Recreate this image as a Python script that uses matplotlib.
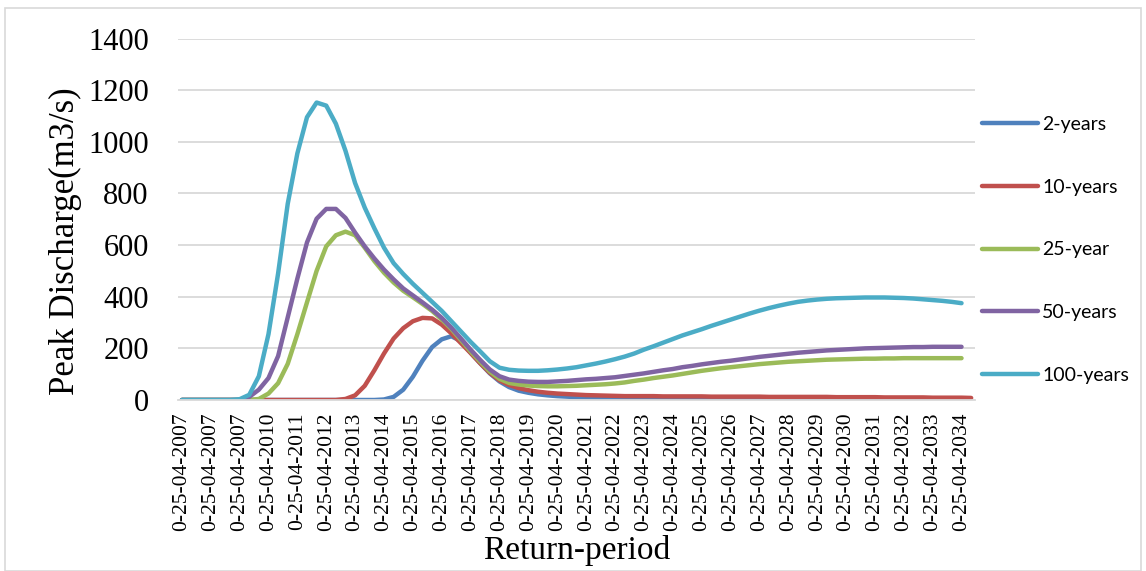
import matplotlib
matplotlib.use("Agg")
import matplotlib.pyplot as plt
from matplotlib.patches import Rectangle

# ---- data -------------------------------------------------------------
tick_labels = (["0-25-04-2007"] * 3 +
               ["0-25-04-%d" % y for y in range(2010, 2035)])

years_2 = [0]*21 + [2, 12, 40, 90, 152, 205, 235, 247, 228, 183,
           142, 103, 72, 50, 36, 28, 22, 18, 15, 13,
           11, 10, 9, 8, 7, 6, 6, 5, 5, 5,
           4, 4, 4, 4, 4, 4, 4, 4, 4, 4,
           3, 3, 3, 3, 3, 3, 3, 3, 3, 3,
           2, 2, 2, 2, 2, 2, 2, 2, 2, 2, 2]

years_10 = [0]*17 + [4, 18, 55, 115, 180, 238, 278, 305, 318, 316,
            292, 258, 220, 182, 142, 105, 76, 58, 46, 38,
            32, 28, 25, 23, 21, 19, 18, 17, 16, 15,
            15, 15, 15, 14, 14, 14, 14, 14, 13, 13,
            13, 13, 13, 13, 12, 12, 12, 12, 12, 12,
            12, 11, 11, 11, 11, 11, 10, 10, 10, 10,
            10, 9, 9, 9, 9, 8]

years_25 = [0]*8 + [4, 25, 65, 140, 255, 378, 500, 595, 638, 652,
            638, 590, 538, 493, 455, 423, 398, 372, 345, 312,
            275, 232, 188, 148, 110, 82, 66, 60, 56, 54,
            53, 53, 54, 55, 57, 59, 61, 64, 68, 74,
            79, 85, 90, 95, 101, 107, 113, 118, 123, 127,
            131, 135, 139, 142, 145, 148, 150, 152, 154, 156,
            157, 158, 159, 160, 160, 161, 161, 162, 162, 162,
            162, 162, 162, 162]

years_50 = [0]*7 + [12, 40, 85, 170, 320, 470, 610, 702, 740, 740,
            705, 648, 595, 548, 505, 467, 432, 405, 378, 350,
            318, 280, 238, 195, 155, 118, 92, 79, 74, 71,
            70, 70, 72, 74, 77, 80, 82, 85, 88, 93,
            98, 103, 109, 115, 120, 127, 132, 138, 143, 148,
            152, 157, 162, 167, 171, 175, 179, 183, 186, 189,
            192, 194, 196, 198, 200, 201, 202, 203, 204, 205,
            205, 206, 206, 206, 206]

years_100 = [0]*6 + [3, 20, 92, 255, 490, 760, 955, 1095, 1152, 1140,
             1070, 965, 840, 745, 665, 590, 530, 488, 450, 415,
             380, 345, 305, 265, 225, 188, 150, 125, 117, 114,
             113, 113, 115, 118, 122, 127, 134, 141, 149, 158,
             168, 180, 195, 208, 222, 236, 250, 262, 274, 287,
             299, 311, 323, 335, 346, 356, 365, 373, 380, 385,
             389, 392, 394, 395, 396, 397, 397, 397, 396, 395,
             393, 390, 387, 384, 380, 375]

series = [("2-years", years_2, "#4F81BD"),
          ("10-years", years_10, "#C0504D"),
          ("25-year", years_25, "#9BBB59"),
          ("50-years", years_50, "#8064A2"),
          ("100-years", years_100, "#4BACC6")]

# ---- figure -----------------------------------------------------------
fig = plt.figure(figsize=(11.46, 5.71), dpi=100)
ax = fig.add_axes([178/1146, 171/571, 797/1146, 361.5/571])

serif = ["Liberation Serif", "DejaVu Serif"]
sans = ["Lato", "DejaVu Sans"]

for name, vals, col in series:
    ax.plot(range(len(vals)), vals, color=col, lw=3.2, label=name,
            solid_capstyle="round", solid_joinstyle="round")

ax.set_ylim(0, 1400)
ax.set_xlim(-0.4, 82.4)
ax.set_yticks(range(0, 1401, 200))
ax.set_yticklabels([str(v) for v in range(0, 1401, 200)],
                   fontfamily=serif, fontsize=22)
ax.set_xticks(range(0, 3*len(tick_labels), 3))
ax.set_xticklabels(tick_labels, rotation=90, fontfamily=serif, fontsize=15.5)
ax.tick_params(axis="y", length=0, pad=21)
ax.tick_params(axis="x", length=0, pad=9)
ax.grid(axis="y", color="#D9D9D9", lw=1.3)
ax.set_axisbelow(True)
for s in ["top", "right", "left"]:
    ax.spines[s].set_visible(False)
ax.spines["bottom"].set_color("#D9D9D9")
ax.spines["bottom"].set_linewidth(1.3)

ax.set_ylabel("Peak Discharge(m3/s)", fontfamily=serif, fontsize=25)
ax.yaxis.set_label_coords(-0.12, 0.44)
fig.text(577/1146, 1 - 551/571, "Return-period", ha="center", va="center",
         fontfamily=serif, fontsize=24)

leg = ax.legend(loc="upper left", bbox_to_anchor=(982/797 - 178/797, (400-116)/361.5),
                frameon=False, prop={"family": sans, "size": 14},
                handlelength=2.9, handletextpad=0.2, labelspacing=2.35,
                borderaxespad=0, borderpad=0)

fig.patches.append(Rectangle((5/1146, 0), 1 - 10/1146, 1 - 8/571,
                             transform=fig.transFigure, fill=False,
                             edgecolor="#D9D9D9", lw=1.2))

fig.savefig("out.png", dpi=100)
